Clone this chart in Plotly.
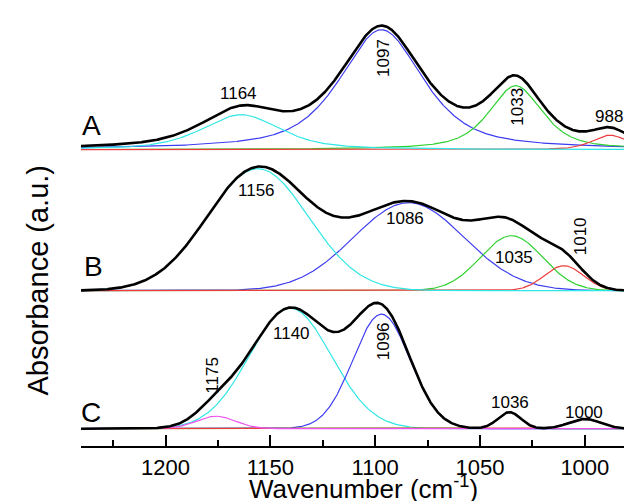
import numpy as np
import plotly.graph_objects as go

# ---- Data: fitted band parameters ----
# Panel A
a_centers = [1097, 1033, 988, 1164]
a_heights = [120, 64, 14.5, 35]
a_fwhm = [47, 30, 20, 44]
a_eta = [0.65, 0.65, 0.5, 0.55]
# Panel B
b_centers = [1084, 1035, 1010, 1156]
b_heights = [88, 55, 25, 122]
b_fwhm = [62, 35, 22, 57]
b_eta = [0.0, 0.0, 0.0, 0.0]
# Panel C
c_centers = [1140.5, 1097, 1036, 1000, 1176]
c_heights = [120.5, 114.5, 16.5, 9.7, 12.5]
c_fwhm = [46, 32, 13, 18, 22]
c_eta = [0.0, 0.0, 0.0, 0.0, 0.0]

panel_names = ["A", "B", "C"]
panel_offsets = [296.3, 155.3, 17.3]

labels_text = ["1164", "1097", "1033", "988",
               "1156", "1086", "1035", "1010",
               "1175", "1140", "1096", "1036", "1000"]

tick_vals = [1200, 1150, 1100, 1050, 1000]
tick_text = ["1200", "1150", "1100", "1050", "1000"]

# ---- styles ----
CYAN = "#2ee6e6"
BLUE = "#3c3cf0"
GREEN = "#2ed12e"
RED = "#f03c3c"
MAGENTA = "#f050f0"
a_colors = [BLUE, GREEN, RED, CYAN]
b_colors = [BLUE, GREEN, RED, CYAN]
c_colors = [CYAN, BLUE, GREEN, RED, MAGENTA]

FONT = "Liberation Sans, Arial, sans-serif"
x = np.linspace(1241, 973, 1073)


def band(xv, c, h, w, eta):
    s = w / 2.3548
    g = np.exp(-(xv - c) ** 2 / (2 * s * s))
    l = 1.0 / (1.0 + ((xv - c) / (w / 2)) ** 2)
    return h * ((1 - eta) * g + eta * l)


fig = go.Figure()
panels = [
    (a_centers, a_heights, a_fwhm, a_eta, a_colors),
    (b_centers, b_heights, b_fwhm, b_eta, b_colors),
    (c_centers, c_heights, c_fwhm, c_eta, c_colors),
]
for (cs, hs, ws, es, cols), off in zip(panels, panel_offsets):
    total = np.zeros_like(x)
    for c, h, w, e, col in zip(cs, hs, ws, es, cols):
        y = band(x, c, h, w, e)
        total += y
        fig.add_trace(go.Scatter(x=x, y=y + off, mode="lines",
                                 line=dict(color=col, width=1.2),
                                 hoverinfo="skip", showlegend=False))
    fig.add_trace(go.Scatter(x=x, y=total + off, mode="lines",
                             line=dict(color="black", width=2.6),
                             hoverinfo="skip", showlegend=False))

# label positions (wavenumber, y, rotated)
label_pos = [
    (1165.1, 353, False), (1096.3, 388, True), (1032.5, 339, True), (988.7, 330, False),
    (1156.8, 255.3, False), (1085.9, 227.3, False), (1034.0, 188.7, False), (1002.2, 210, True),
    (1178.0, 71, True), (1139.9, 113, False), (1095.9, 104.5, True), (1035.9, 44, False), (1000.3, 34, False),
]
annotations = []
for t, (lx, ly, rot) in zip(labels_text, label_pos):
    annotations.append(dict(x=lx, y=ly, xref="x", yref="y", text=t, showarrow=False,
                            textangle=-90 if rot else 0,
                            font=dict(family=FONT, size=17, color="black"),
                            xanchor="center", yanchor="middle"))
letter_pos = [(1235.4, 321), (1234.4, 180), (1235.4, 34)]
for n, (lx, ly) in zip(panel_names, letter_pos):
    annotations.append(dict(x=lx, y=ly, xref="x", yref="y", text=n, showarrow=False,
                            font=dict(family=FONT, size=28, color="black"),
                            xanchor="center", yanchor="middle"))

annotations.append(dict(x=-0.077, y=0.38, xref="paper", yref="paper",
                        text="Absorbance (a.u.)", showarrow=False, textangle=-90,
                        font=dict(family=FONT, size=29, color="black"),
                        xanchor="center", yanchor="middle"))
annotations.append(dict(x=0.506, y=-0.094, xref="paper", yref="paper",
                        text="Wavenumber (cm<sup>-1</sup>)", showarrow=False,
                        font=dict(family=FONT, size=26, color="black"),
                        xanchor="center", yanchor="middle"))

fig.update_layout(
    width=632, height=501,
    margin=dict(l=73, r=0, t=0, b=63),
    paper_bgcolor="white", plot_bgcolor="white",
    annotations=annotations,
    xaxis=dict(range=[1240.3, 973.7], showgrid=False, zeroline=False,
               tickmode="array", tickvals=tick_vals, ticktext=tick_text,
               ticks="inside", ticklen=11, tickwidth=2, tickcolor="black",
               showline=True, linecolor="black", linewidth=2,
               tickfont=dict(family=FONT, size=22, color="black"),
               ticklabelstandoff=1,
               minor=dict(dtick=25, tick0=975, ticks="inside", ticklen=6,
                          tickwidth=2, tickcolor="black")),
    yaxis=dict(range=[0, 438], visible=False, showgrid=False, zeroline=False),
)

fig.write_html("out.html")
